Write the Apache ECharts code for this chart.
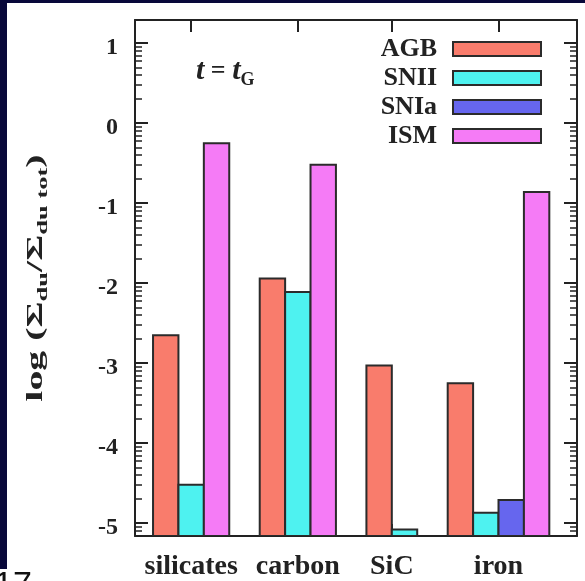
<!DOCTYPE html>
<html>
<head>
<meta charset="utf-8">
<script src="https://cdn.jsdelivr.net/npm/echarts@6/dist/echarts.min.js"></script>
<style>html,body{margin:0;padding:0;background:#fff}#c{width:585px;height:581px}</style>
</head>
<body>
<div id="c"></div>
<script>
// ---- data ----
const categories = ['silicates', 'carbon', 'SiC', 'iron'];
const seriesNames = ['AGB', 'SNII', 'SNIa', 'ISM'];
const agb  = [-2.65, -1.94, -3.03, -3.25];
const snii = [-4.52, -2.11, -5.08, -4.87];
const snia = [null, null, null, -4.71];
const ism  = [-0.25, -0.52, null, -0.86];
const yTicks = [-5, -4, -3, -2, -1, 0, 1];

// ---- layout / style ----
const Y_MIN = -5.16, Y_MAX = 1.29;
const X_MAX = 17.4, BAR_OFFSET = 0.71, GROUP_GAP = 1.2;
const colors = ['#f97c6c', '#4ef2f0', '#6666ee', '#f57bf6'];
const edge = '#2b2b2b';
const serif = 'Liberation Serif';

const values = [agb, snii, snia, ism];
const seriesData = values.map(() => []);
const groupCenters = [];
let pos = BAR_OFFSET;
categories.forEach((c, ci) => {
  const start = pos;
  values.forEach((arr, si) => {
    if (arr[ci] !== null && arr[ci] !== undefined) {
      seriesData[si].push([pos + 0.5, arr[ci]]);
      pos += 1;
    }
  });
  groupCenters.push((start + pos) / 2);
  pos += GROUP_GAP;
});

const minorTicks = [];
for (let n = -6; n <= 1; n++) {
  for (let k = 2; k <= 9; k++) {
    const v = n + Math.log10(k);
    if (v > Y_MIN && v < Y_MAX) minorTicks.push(v);
  }
}

function renderBar(params, api) {
  const x = api.value(0), y = api.value(1);
  const p1 = api.coord([x - 0.5, y]);
  const p0 = api.coord([x + 0.5, Y_MIN]);
  return {
    type: 'rect',
    shape: { x: p1[0], y: p1[1], width: p0[0] - p1[0], height: p0[1] - p1[1] },
    style: { fill: colors[params.seriesIndex], stroke: edge, lineWidth: 2 }
  };
}

const axisLineStyle = { color: '#222', width: 2 };

const chart = echarts.init(document.getElementById('c'), null, { renderer: 'canvas' });
chart.setOption({
  animation: false,
  backgroundColor: '#ffffff',
  grid: { left: 135, top: 20, right: 8, bottom: 45, containLabel: false },
  legend: {
    data: seriesNames,
    orient: 'vertical',
    right: 38,
    top: 31,
    align: 'right',
    icon: 'rect',
    itemWidth: 88,
    itemHeight: 14,
    itemGap: 3,
    selectedMode: false,
    itemStyle: { borderColor: edge, borderWidth: 2 },
    textStyle: { fontFamily: serif, fontWeight: 'bold', fontSize: 26, color: '#222', padding: [0, 11, 0, 0] }
  },
  xAxis: [
    {
      type: 'value', position: 'bottom', min: 0, max: X_MAX,
      splitLine: { show: false },
      axisLine: { show: true, onZero: false, lineStyle: axisLineStyle },
      axisTick: { show: true, inside: true, length: 12, customValues: groupCenters, lineStyle: { color: '#222', width: 2 } },
      axisLabel: {
        show: true, customValues: groupCenters, margin: 17,
        fontFamily: serif, fontWeight: 'bold', fontSize: 28, color: '#222',
        formatter: function (v) {
          let best = 0;
          groupCenters.forEach((g, i) => { if (Math.abs(g - v) < Math.abs(groupCenters[best] - v)) best = i; });
          return categories[best];
        }
      }
    },
    {
      type: 'value', position: 'top', min: 0, max: X_MAX,
      splitLine: { show: false },
      axisLine: { show: true, onZero: false, lineStyle: axisLineStyle },
      axisTick: { show: true, inside: true, length: 12, customValues: groupCenters, lineStyle: { color: '#222', width: 2 } },
      axisLabel: { show: false }
    }
  ],
  yAxis: [
    {
      type: 'value', position: 'left', min: Y_MIN, max: Y_MAX,
      splitLine: { show: false },
      axisLine: { show: true, onZero: false, lineStyle: axisLineStyle },
      axisTick: { show: true, inside: true, length: 13, customValues: yTicks, lineStyle: { color: '#222', width: 2 } },
      axisLabel: { show: true, customValues: yTicks, margin: 17, verticalAlign: 'top', lineHeight: 10, fontFamily: serif, fontWeight: 'bold', fontSize: 24, color: '#222' }
    },
    {
      type: 'value', position: 'left', min: Y_MIN, max: Y_MAX,
      splitLine: { show: false }, axisLine: { show: false, onZero: false },
      axisTick: { show: true, inside: true, length: 7, customValues: minorTicks, lineStyle: { color: '#222', width: 1.5 } },
      axisLabel: { show: false }
    },
    {
      type: 'value', position: 'right', min: Y_MIN, max: Y_MAX,
      splitLine: { show: false },
      axisLine: { show: true, onZero: false, lineStyle: axisLineStyle },
      axisTick: { show: true, inside: true, length: 13, customValues: yTicks, lineStyle: { color: '#222', width: 2 } },
      axisLabel: { show: false }
    },
    {
      type: 'value', position: 'right', min: Y_MIN, max: Y_MAX,
      splitLine: { show: false }, axisLine: { show: false, onZero: false },
      axisTick: { show: true, inside: true, length: 7, customValues: minorTicks, lineStyle: { color: '#222', width: 1.5 } },
      axisLabel: { show: false }
    }
  ],
  series: seriesNames.map((name, si) => ({
    name: name,
    type: 'custom',
    xAxisIndex: 0,
    yAxisIndex: 0,
    clip: true,
    itemStyle: { color: colors[si], borderColor: edge, borderWidth: 2 },
    renderItem: renderBar,
    data: seriesData[si]
  })),
  graphic: [
    { type: 'rect', left: 0, top: 0, shape: { width: 7, height: 569 }, style: { fill: '#08083a' }, silent: true },
    { type: 'rect', left: 0, top: 0, shape: { width: 585, height: 3 }, style: { fill: '#08083a' }, silent: true },
    {
      type: 'text', x: 36, y: 278, rotation: Math.PI / 2, scaleX: 1.66, scaleY: 0.95,
      style: {
        text: '{n|log (Σ}{s|du}{n|/Σ}{s|du tot}{n|)}',
        align: 'center', verticalAlign: 'middle',
        rich: {
          n: { fontFamily: serif, fontWeight: 'bold', fontSize: 24, fill: '#222', lineHeight: 30, verticalAlign: 'middle' },
          s: { fontFamily: serif, fontWeight: 'bold', fontSize: 16, fill: '#222', lineHeight: 30, verticalAlign: 'bottom' }
        }
      }
    },
    {
      type: 'text', left: 196, top: 56,
      style: {
        text: '{i|t}{e| = }{i|t}{g|G}',
        rich: {
          i: { fontFamily: serif, fontStyle: 'italic', fontWeight: 'bold', fontSize: 30, fill: '#222', lineHeight: 36, verticalAlign: 'middle' },
          e: { fontFamily: serif, fontWeight: 'bold', fontSize: 26, fill: '#222', lineHeight: 36, verticalAlign: 'middle' },
          g: { fontFamily: serif, fontWeight: 'bold', fontSize: 18, fill: '#222', lineHeight: 36, verticalAlign: 'bottom' }
        }
      }
    },
    { type: 'text', left: -6, top: 569, style: { text: '17', font: '34px "Liberation Sans"', fill: '#111' }, silent: true }
  ]
});
</script>
</body>
</html>
